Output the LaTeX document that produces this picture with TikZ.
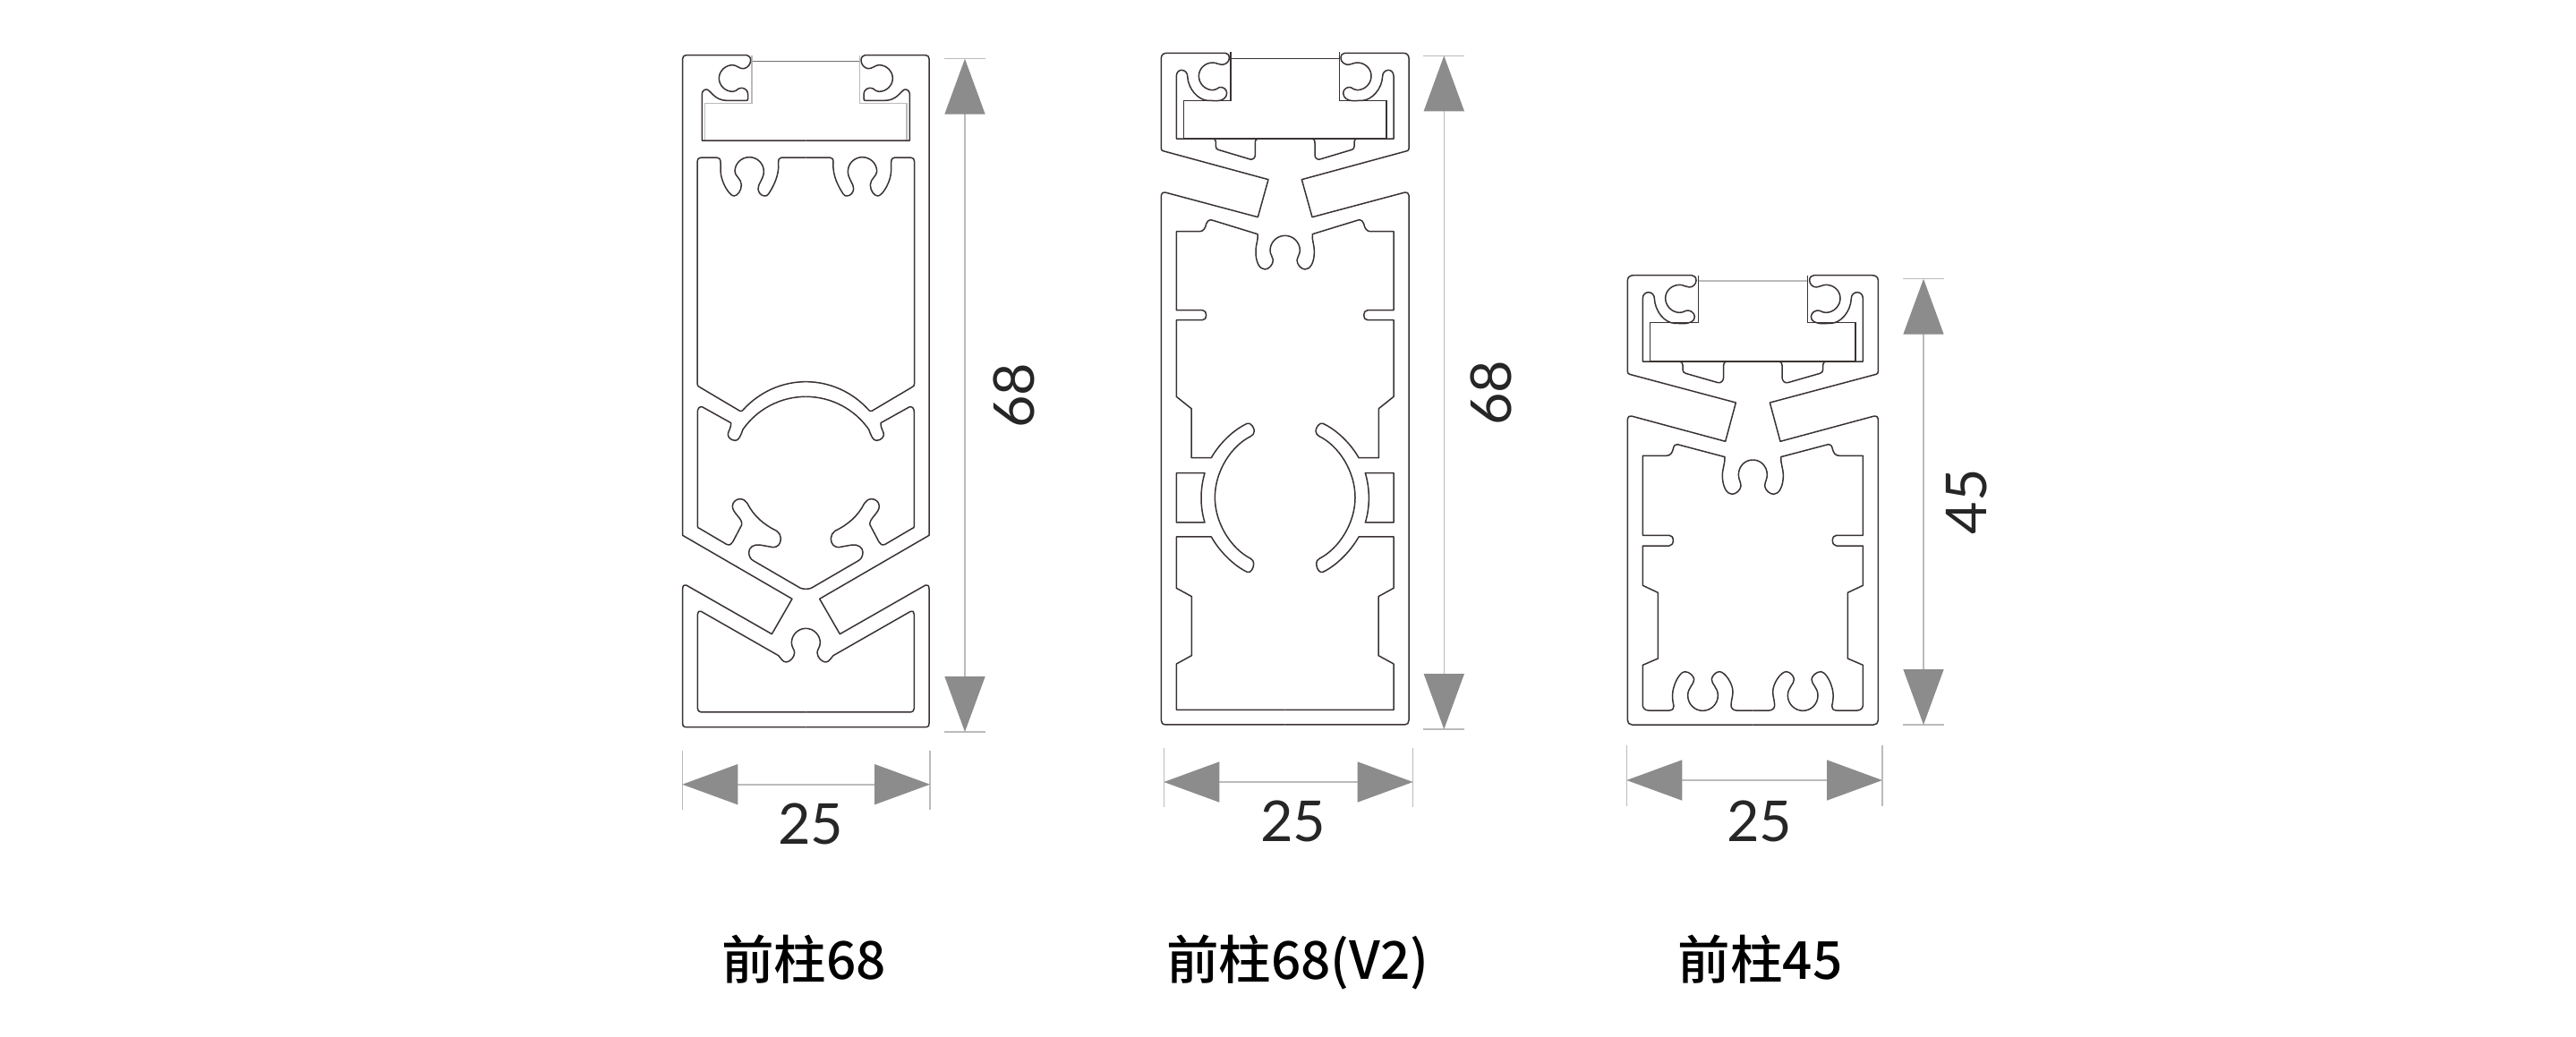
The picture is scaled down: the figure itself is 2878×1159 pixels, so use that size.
\documentclass[tikz,border=0pt]{standalone}
\usepackage{fontspec}
\usetikzlibrary{arrows.meta}
\newfontfamily\dimfont{Lato}
\newfontfamily\capfont{Noto Sans CJK SC Medium}
\definecolor{profilecol}{HTML}{3A3232}
\definecolor{tipcol}{HTML}{8C8C8C}
\definecolor{guidecol}{HTML}{BBBBBB}
\begin{document}
\begin{tikzpicture}[x=1pt,y=-1pt]
\tikzset{profile/.style={draw=profilecol,line width=1.5pt,line join=round},
         coverline/.style={draw=#1,line width=1.2pt},
         guide/.style={draw=guidecol,line width=1.4pt},
         dimline/.style={draw=guidecol,line width=1.6pt,
             {Triangle[length=62pt,width=45pt,color=tipcol]}-{Triangle[length=62pt,width=45pt,color=tipcol]}},
         dimtext/.style={font=\dimfont\fontsize{63}{63}\selectfont,text=black!85,inner sep=0pt},
         captext/.style={font=\capfont\fontsize{58.5}{58.5}\selectfont,text=black,inner sep=0pt,anchor=base}}
\useasboundingbox (0,0) rectangle (2878,1159);
% first post
\foreach \s in {1,-1}{
\begin{scope}[shift={(900.33,40)},scale=0.33333,xscale=\s]
\draw[coverline=guidecol!60!black] (0,85) -- (-181,85);
\draw[coverline=guidecol] (-181,65) -- (-181,226) -- (-338,226) -- (-338,351);
% shell
\draw[profile] (0,351) -- (-348,351) -- (-348,195)
    .. controls (-348,185) and (-338,178) .. (-331,180)
    .. controls (-318,185) and (-305,217) .. (-265,217)
    -- (-200,217) .. controls (-195,217) and (-194,215) .. (-194,210)
    -- (-194,195) .. controls (-194,180) and (-212,170) .. (-225,177)
    .. controls (-232,183) and (-238,187) .. (-245,187)
    .. controls (-272,187) and (-291,165) .. (-291,143)
    .. controls (-291,118) and (-270,98) .. (-245,98)
    .. controls (-232,98) and (-222,112) .. (-208,110)
    .. controls (-195,108) and (-185,95) .. (-185,82)
    .. controls (-185,72) and (-192,65) .. (-198,65)
    -- (-401,65) .. controls (-409,65) and (-413,70) .. (-413,77)
    -- (-413,1675) -- (-46,1888) -- (-114,2006) -- (-401,1842)
    .. controls (-408,1838) and (-413,1845) .. (-413,1854)
    -- (-413,2305) .. controls (-416,2311) and (-410,2318) .. (-401,2318) -- (0,2318);
% upper chamber
\draw[profile] (0,408) -- (-81,408)
    .. controls (-90,408) and (-92,415) .. (-92,425)
    .. controls (-88,470) and (-112,510) .. (-125,530)
    .. controls (-130,537) and (-133,537) .. (-138,537)
    .. controls (-150,537) and (-160,525) .. (-160,512)
    .. controls (-160,495) and (-141,480) .. (-141,455)
    .. controls (-141,428) and (-163,407) .. (-189,407)
    .. controls (-216,407) and (-238,428) .. (-238,455)
    .. controls (-238,470) and (-216,480) .. (-216,500)
    .. controls (-216,520) and (-230,537) .. (-241,537)
    .. controls (-256,537) and (-286,490) .. (-286,450)
    -- (-286,425) .. controls (-286,414) and (-290,408) .. (-298,408)
    -- (-351,408) .. controls (-360,408) and (-364,414) .. (-364,422)
    -- (-364,1165) .. controls (-364,1172) and (-362,1175) .. (-356,1178)
    -- (-221,1258) .. controls (-217,1260) and (-214,1258) .. (-211,1255)
    .. controls (-157,1195) and (-81,1160) .. (0,1160);
% middle chamber
\draw[profile] (0,1210) .. controls (-84,1210) and (-163,1251) .. (-211,1320)
    .. controls (-218,1340) and (-225,1357) .. (-236,1357)
    .. controls (-252,1357) and (-262,1345) .. (-261,1335)
    .. controls (-260,1325) and (-250,1315) .. (-251,1298)
    -- (-346,1245) .. controls (-355,1240) and (-363,1250) .. (-363,1260)
    -- (-363,1645) .. controls (-363,1650) and (-360,1650) .. (-356,1652)
    -- (-266,1705) .. controls (-255,1710) and (-250,1705) .. (-245,1697)
    -- (-215,1640) .. controls (-210,1620) and (-246,1600) .. (-246,1578)
    .. controls (-246,1562) and (-232,1553) .. (-221,1553)
    .. controls (-208,1553) and (-202,1560) .. (-196,1568)
    .. controls (-175,1610) and (-140,1640) .. (-98,1660)
    .. controls (-90,1665) and (-84,1675) .. (-84,1685)
    .. controls (-84,1705) and (-95,1715) .. (-110,1715)
    -- (-155,1707) .. controls (-175,1705) and (-191,1715) .. (-191,1732)
    .. controls (-191,1745) and (-185,1755) .. (-176,1760)
    -- (-30,1845) .. controls (-15,1855) and (-8,1855) .. (0,1855);
% lower chamber
\draw[profile] (0,1987) .. controls (-27,1987) and (-48,2010) .. (-48,2035)
    .. controls (-48,2050) and (-38,2058) .. (-38,2068)
    .. controls (-38,2085) and (-55,2100) .. (-66,2100)
    .. controls (-78,2100) and (-85,2085) .. (-92,2078)
    -- (-351,1930) .. controls (-358,1926) and (-363,1932) .. (-363,1940)
    -- (-363,2255) .. controls (-363,2262) and (-358,2268) .. (-351,2268) -- (0,2268);
\end{scope}}
% second post
\foreach \s in {1,-1}{
\begin{scope}[shift={(1435.67,40)},scale=0.33333,xscale=\s]
\draw[coverline=profilecol] (0,77) -- (-182,77);
\draw[coverline=profilecol] (-182,55) -- (-182,217) -- (-340,217) -- (-340,345) -- (0,345);
% shell
\draw[profile] (0,345) -- (-90,345) .. controls (-97,345) and (-100,350) .. (-100,360)
    -- (-100,400) .. controls (-100,410) and (-108,416) .. (-117,414)
    -- (-224,382) .. controls (-230,380) and (-232,376) .. (-232,370)
    -- (-232,355) .. controls (-232,349) and (-236,345) .. (-242,345)
    -- (-364,345) -- (-364,135)
    .. controls (-364,122) and (-355,115) .. (-347,115)
    .. controls (-335,115) and (-327,125) .. (-327,135)
    .. controls (-325,180) and (-290,215) .. (-260,217)
    -- (-227,218) .. controls (-210,218) and (-195,208) .. (-195,192)
    .. controls (-195,178) and (-210,170) .. (-220,173)
    .. controls (-228,178) and (-235,182) .. (-242,182)
    .. controls (-268,182) and (-289,160) .. (-289,135)
    .. controls (-289,110) and (-268,90) .. (-242,90)
    .. controls (-230,90) and (-222,97) .. (-212,97)
    .. controls (-200,97) and (-187,88) .. (-187,75)
    .. controls (-187,65) and (-192,58) .. (-200,58)
    -- (-397,58) .. controls (-408,58) and (-415,65) .. (-415,75)
    -- (-415,378) .. controls (-415,382) and (-413,385) .. (-409,386)
    -- (-56,482) -- (-91,608) -- (-402,525)
    .. controls (-408,523) and (-415,528) .. (-415,535)
    -- (-415,2295) .. controls (-415,2304) and (-410,2310) .. (-402,2310) -- (0,2310);
% chamber
\draw[profile] (0,670) .. controls (-27,670) and (-50,692) .. (-50,720)
    .. controls (-50,735) and (-40,740) .. (-40,752)
    .. controls (-40,768) and (-55,783) .. (-67,783)
    .. controls (-85,783) and (-98,760) .. (-98,725)
    .. controls (-98,695) and (-89,685) .. (-92,665)
    -- (-245,618) .. controls (-255,616) and (-262,622) .. (-264,630)
    .. controls (-266,645) and (-275,656) .. (-285,656)
    -- (-364,656) -- (-364,920) -- (-277,920)
    .. controls (-268,920) and (-264,928) .. (-264,937)
    .. controls (-264,946) and (-268,953) .. (-277,953)
    -- (-364,953) -- (-364,1210) -- (-314,1250) -- (-314,1415) -- (-247,1415)
    .. controls (-222,1370) and (-175,1322) .. (-127,1300)
    .. controls (-115,1295) and (-103,1315) .. (-103,1325)
    .. controls (-103,1335) and (-108,1338) .. (-115,1343)
    .. controls (-180,1375) and (-235,1460) .. (-235,1548)
    .. controls (-235,1635) and (-180,1720) .. (-115,1753)
    .. controls (-108,1758) and (-105,1762) .. (-105,1770)
    .. controls (-105,1785) and (-115,1803) .. (-127,1798)
    .. controls (-175,1775) and (-222,1725) .. (-247,1680)
    -- (-364,1680) -- (-364,1852) -- (-313,1880) -- (-313,2078)
    -- (-364,2106) -- (-364,2260) -- (0,2260);
% window
\draw[profile] (-364,1466) -- (-269,1466) .. controls (-285,1520) and (-285,1580) .. (-269,1632)
    -- (-364,1632) -- cycle;
\end{scope}}
% third post
\foreach \s in {1,-1}{
\begin{scope}[shift={(1958.33,290)},scale=0.33333,xscale=\s]
\draw[coverline=guidecol] (0,72) -- (-183,72);
\draw[coverline=profilecol] (-183,53) -- (-183,212) -- (-344,212) -- (-344,342) -- (0,342);
% shell
\draw[profile] (0,342) -- (-88,342) .. controls (-95,342) and (-98,348) .. (-98,355)
    -- (-98,395) .. controls (-98,406) and (-107,416) .. (-117,413)
    -- (-225,382) .. controls (-231,380) and (-235,376) .. (-235,370)
    -- (-235,355) .. controls (-235,348) and (-238,342) .. (-245,342)
    -- (-369,342) -- (-369,130)
    .. controls (-369,118) and (-360,110) .. (-350,110)
    .. controls (-338,110) and (-330,120) .. (-330,130)
    .. controls (-328,175) and (-295,213) .. (-262,214)
    -- (-235,215) .. controls (-212,215) and (-195,208) .. (-195,192)
    .. controls (-195,178) and (-212,167) .. (-225,172)
    .. controls (-232,176) and (-238,178) .. (-245,178)
    .. controls (-272,178) and (-293,155) .. (-293,130)
    .. controls (-293,105) and (-272,85) .. (-245,85)
    .. controls (-232,85) and (-224,93) .. (-213,93)
    .. controls (-200,93) and (-190,82) .. (-190,70)
    .. controls (-190,60) and (-196,53) .. (-205,53)
    -- (-400,53) .. controls (-412,53) and (-420,60) .. (-420,70)
    -- (-420,375) .. controls (-420,380) and (-418,384) .. (-413,385)
    -- (-57,480) -- (-92,610) -- (-407,525)
    .. controls (-413,523) and (-420,528) .. (-420,535)
    -- (-420,1545) .. controls (-420,1554) and (-414,1560) .. (-405,1560) -- (0,1560);
% chamber
\draw[profile] (0,672) .. controls (-27,672) and (-48,694) .. (-48,722)
    .. controls (-48,738) and (-40,745) .. (-40,760)
    .. controls (-42,775) and (-58,787) .. (-70,787)
    .. controls (-88,787) and (-102,760) .. (-102,725)
    .. controls (-102,700) and (-93,685) .. (-94,662)
    -- (-253,620) .. controls (-260,618) and (-265,625) .. (-267,635)
    .. controls (-270,648) and (-276,658) .. (-290,658)
    -- (-369,658) -- (-369,925) -- (-280,925)
    .. controls (-272,925) and (-267,932) .. (-267,942)
    .. controls (-267,952) and (-272,960) .. (-280,960)
    -- (-369,960) -- (-369,1093) -- (-318,1117) -- (-318,1338) -- (-369,1360) -- (-369,1490)
    .. controls (-371,1503) and (-362,1512) .. (-350,1512)
    -- (-280,1512) .. controls (-270,1512) and (-263,1505) .. (-265,1497)
    .. controls (-272,1470) and (-270,1445) .. (-262,1425)
    .. controls (-255,1405) and (-240,1382) .. (-228,1382)
    .. controls (-212,1382) and (-197,1398) .. (-197,1408)
    .. controls (-197,1425) and (-218,1435) .. (-218,1462)
    .. controls (-218,1490) and (-196,1513) .. (-168,1513)
    .. controls (-140,1513) and (-117,1490) .. (-117,1462)
    .. controls (-117,1435) and (-138,1425) .. (-138,1408)
    .. controls (-138,1398) and (-125,1382) .. (-112,1382)
    .. controls (-95,1382) and (-67,1420) .. (-67,1450)
    .. controls (-67,1465) and (-73,1480) .. (-73,1495)
    .. controls (-73,1505) and (-65,1512) .. (-55,1512) -- (0,1512);
\end{scope}}
% dimensions, widths
\coordinate (wa1) at (762.3,876.7);
\coordinate (wa2) at (1039,876.7);
\coordinate (wb1) at (1300.3,874);
\coordinate (wb2) at (1578.6,874);
\coordinate (wc1) at (1817.3,872);
\coordinate (wc2) at (2103,872);
\foreach \n/\t/\b in {wa1/839/905,wa2/839/905,wb1/836/902,wb2/836/902,wc1/833/901,wc2/833/901}
    \draw[guide] (\n |- 0,\t) -- (\n |- 0,\b);
\draw[dimline] (wa1) -- (wa2);
\draw[dimline] (wb1) -- (wb2);
\draw[dimline] (wc1) -- (wc2);
% dimensions, heights
\coordinate (ha1) at (1078,65.7);
\coordinate (ha2) at (1078,818);
\coordinate (hb1) at (1613.3,62.3);
\coordinate (hb2) at (1613.3,815);
\coordinate (hc1) at (2149,311.7);
\coordinate (hc2) at (2149,810);
\foreach \n in {ha1,ha2,hb1,hb2,hc1,hc2}
    \draw[guide] ([xshift=-23pt]\n) -- ([xshift=23pt]\n);
\draw[dimline] (ha1) -- (ha2);
\draw[dimline] (hb1) -- (hb2);
\draw[dimline] (hc1) -- (hc2);
% labels
\node[dimtext,anchor=base] (wa) at (905.6,943) {25};
\node[dimtext,anchor=base] (wb) at (1444.6,940) {25};
\node[dimtext,anchor=base] (wc) at (1965.8,940) {25};
\node[dimtext,rotate=90] (ha) at (1133,442) {68};
\node[dimtext,rotate=90] (hb) at (1666,439) {68};
\node[dimtext,rotate=90] (hc) at (2196.7,560.5) {45};
\node[captext] (capa) at (898,1094) {前柱68};
\node[captext] (capb) at (1450,1094) {前柱68(V2)};
\node[captext] (capc) at (1966.5,1094) {前柱45};
\end{tikzpicture}
\end{document}
